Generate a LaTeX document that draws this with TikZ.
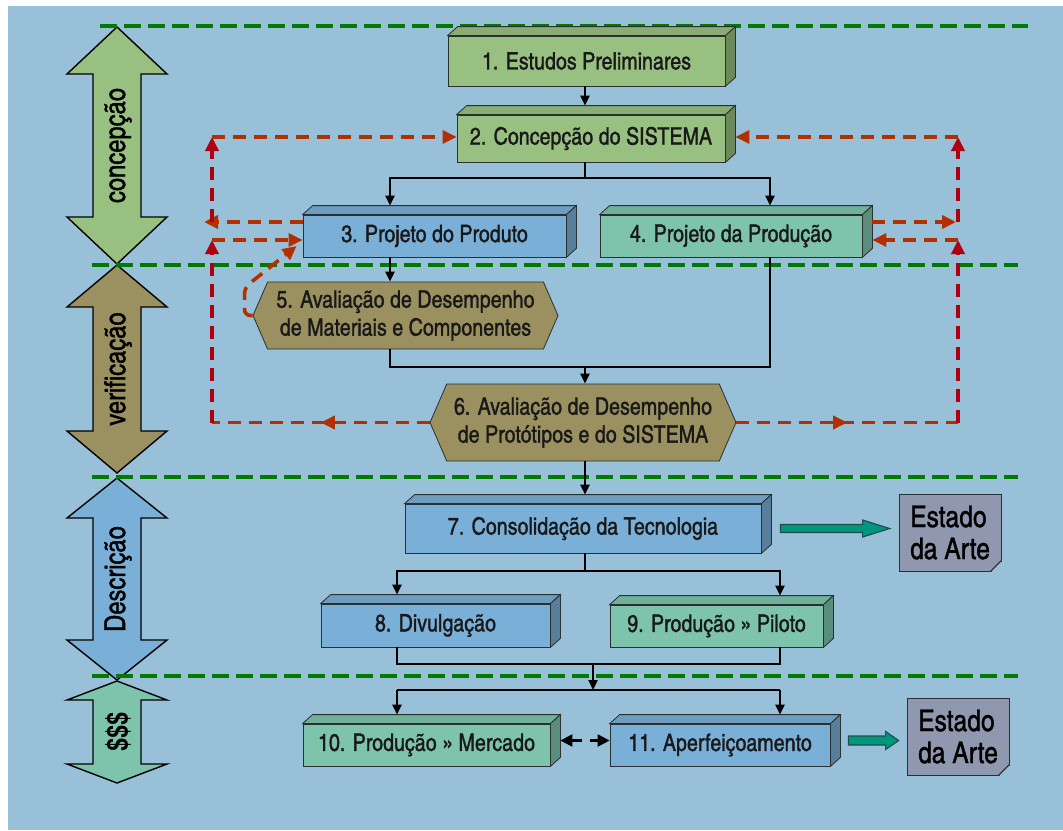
\documentclass[tikz,border=0pt]{standalone}
\usepackage{fontspec}
\setmainfont{texgyreheroscn}[Extension=.otf, UprightFont=*-regular, BoldFont=*-bold, ItalicFont=*-italic, BoldItalicFont=*-bolditalic, UprightFeatures={FakeBold=1.2}]
\usetikzlibrary{arrows.meta, shapes.symbols, calc, decorations.markings}

\definecolor{bgblue}{RGB}{153,192,217}
\definecolor{cgreen}{RGB}{152,192,128}
\definecolor{cteal}{RGB}{126,196,172}
\definecolor{cblue}{RGB}{122,175,215}
\definecolor{colive}{RGB}{154,144,96}
\definecolor{cnote}{RGB}{144,152,176}
\definecolor{boxline}{RGB}{40,48,48}
\definecolor{dgreen}{RGB}{0,122,0}
\definecolor{redh}{RGB}{178,48,0}
\definecolor{redv}{RGB}{176,0,16}
\definecolor{tealfill}{RGB}{0,150,128}
\definecolor{tealline}{RGB}{30,80,70}

\newcommand{\boxfont}{\fontsize{12}{14}\selectfont}

\tikzset{
  slab/.style={draw=boxline, fill=#1, inner sep=2pt, text=black!90, font=\boxfont},
  hexa/.style={signal, signal to=west and east, signal pointer angle=133, draw=boxline, fill=colive,
    align=center, inner sep=1pt, text=black!90, font=\fontsize{12}{14}\selectfont},
  note/.style={draw=boxline, fill=cnote, align=left, inner sep=2pt,
    minimum width=51pt, minimum height=38.5pt, font=\fontsize{15}{16}\selectfont},
  phase/.style={draw=black, line width=0.7pt, fill=#1},
  divider/.style={draw=dgreen, line width=2.2pt, dash pattern=on 8.5pt off 3.5pt},
  link/.style={line width=1.1pt, draw=black},
  flow/.style={link, -{Triangle[length=5pt,width=4.5pt]}},
  fb/.style={draw=redh, color=redh, line width=1.8pt, dash pattern=on 6.5pt off 4pt, -{Triangle[length=7pt,width=6.5pt]}},
  fbv/.style={fb, draw=redv, color=redv},
  fbmid/.style={draw=redh, color=redh, line width=1.8pt, dash pattern=on 6.5pt off 4pt,
    postaction={decorate}, decoration={markings, mark=at position 0.5 with {\arrow{Triangle[length=7pt,width=6.5pt]}}}},
  bigarrow/.style={draw=tealline, fill=tealfill, line width=0.6pt}
}

\begin{document}
\begin{tikzpicture}[x=0.5pt, y=-0.5pt]

\useasboundingbox (0,0) rectangle (1063,830);
\fill[bgblue] (8,6) rectangle (1063,830);

\foreach \ya/\yb/\hd/\col/\lab [count=\i] in {27/264/47/cgreen/concepção, 265/473/42/colive/verificação, 478/680/40/cblue/Descrição, 681/783/19/cteal/\textbf{\$\$\$}}
{
  \filldraw[phase=\col] (117,\ya) -- (167,\ya+\hd) -- (141,\ya+\hd) -- (141,\yb-\hd) -- (167,\yb-\hd) -- (117,\yb)
    -- (67,\yb-\hd) -- (93,\yb-\hd) -- (93,\ya+\hd) -- (67,\ya+\hd) -- cycle;
  \node[rotate=90, font=\fontsize{14.5}{15}\selectfont] (ph\i) at (118,{(\ya+\yb)/2}) {\lab};
}

\draw[divider] (100,26) -- (1028,26);
\draw[divider] (92,265) -- (1018,265);
\draw[divider] (92,477) -- (1018,477);
\draw[divider] (92,676) -- (1018,676);

\node[slab=cgreen, minimum width=138.5pt, minimum height=25pt] (b1) at (586.5,61) {1. Estudos Preliminares};
\node[slab=cgreen, minimum width=134pt, minimum height=23.5pt] (b2) at (591,138.5) {2. Concepção do SISTEMA};
\node[slab=cblue, minimum width=131.5pt, minimum height=21pt] (b3) at (434.5,236) {3. Projeto do Produto};
\node[slab=cteal, minimum width=131pt, minimum height=21pt] (b4) at (731,236) {4. Projeto da Produção};
\node[hexa, minimum width=152.5pt, minimum height=33.5pt] (b5) at (405.5,315.5) {5. Avaliação de Desempenho\\de Materiais e Componentes};
\node[hexa, minimum width=153pt, minimum height=38.5pt] (b6) at (583,422.5) {6. Avaliação de Desempenho\\de Protótipos e do SISTEMA};
\node[slab=cblue, minimum width=178pt, minimum height=24.5pt] (b7) at (583,528.5) {7. Consolidação da Tecnologia};
\node[slab=cblue, minimum width=114.5pt, minimum height=21.5pt] (b8) at (435.5,625.5) {8. Divulgação};
\node[slab=cteal, minimum width=106.5pt, minimum height=21pt] (b9) at (716.5,626) {9. Produção » Piloto};
\node[slab=cteal, minimum width=123.5pt, minimum height=21pt] (b10) at (426.5,745) {10. Produção » Mercado};
\node[slab=cblue, minimum width=110pt, minimum height=21pt] (b11) at (720,745) {11. Aperfeiçoamento};

\foreach \n/\col in {b1/cgreen, b2/cgreen, b3/cblue, b4/cteal, b7/cblue, b8/cblue, b9/cteal, b10/cteal, b11/cblue}
{
  \filldraw[draw=boxline, fill=\col!90!black] (\n.north west) -- ++(5pt,4.5pt) -- ([shift={(5pt,4.5pt)}]\n.north east) -- (\n.north east) -- cycle;
  \filldraw[draw=boxline, fill=\col!72!black] (\n.north east) -- ++(5pt,4.5pt) -- ([shift={(5pt,4.5pt)}]\n.south east) -- (\n.south east) -- cycle;
  \coordinate (\n-top) at ([yshift=4.5pt]\n.north);
  \coordinate (\n-side) at ([shift={(5pt,2.25pt)}]\n.east);
}

\node[note] (n1) at (950,532.5) {Estado\\da Arte};
\node[note] (n2) at (958,736.5) {Estado\\da Arte};
\foreach \n in {n1, n2}
{
  \fill[bgblue] ($(\n.south east)+(-11,1.5)$) -- ($(\n.south east)+(1.5,1.5)$) -- ($(\n.south east)+(1.5,-11)$) -- cycle;
  \filldraw[draw=boxline, fill=cnote!55!white, line width=0.5pt] ($(\n.south east)+(-11,0)$) -- ($(\n.south east)+(0,-11)$) -- ($(\n.south east)+(-8,-3)$) -- cycle;
}

\coordinate (s1) at (585,178);
\coordinate (s1l) at (390,178);
\coordinate (s1r) at (770,178);
\coordinate (m1) at (585,367);
\coordinate (m1l) at (390,367);
\coordinate (m1r) at (770,367);
\coordinate (s2) at (585,571);
\coordinate (s2l) at (397,571);
\coordinate (s2r) at (780,571);
\coordinate (m2) at (593,664);
\coordinate (m2l) at (397,664);
\coordinate (m2r) at (780,664);
\coordinate (s3) at (593,690);
\coordinate (s3l) at (397,690);
\coordinate (s3r) at (780,690);

\draw[flow] (s1 |- b1.south) -- (s1 |- b2-top);
\draw[link] (s1 |- b2.south) -- (s1);
\draw[flow] (s1) -- (s1l) -- (s1l |- b3-top);
\draw[flow] (s1) -- (s1r) -- (s1r |- b4-top);
\draw[flow] (s1l |- b3.south) -- (s1l |- b5.north);
\draw[link] (m1l |- b5.south) -- (m1l) -- (m1r) -- (m1r |- b4.south);
\draw[flow] (m1) -- (m1 |- b6.north);
\draw[flow] (m1 |- b6.south) -- (m1 |- b7-top);
\draw[link] (s2 |- b7.south) -- (s2);
\draw[flow] (s2) -- (s2l) -- (s2l |- b8-top);
\draw[flow] (s2) -- (s2r) -- (s2r |- b9-top);
\draw[link] (m2l |- b8.south) -- (m2l) -- (m2r) -- (m2r |- b9.south);
\draw[flow] (m2) -- (s3);
\draw[link] (s3l) -- (s3r);
\draw[flow] (s3l) -- (s3l |- b10-top);
\draw[flow] (s3r) -- (s3r |- b11-top);
\draw[link, dash pattern=on 5pt off 4pt, {Triangle[length=6pt,width=6pt]}-{Triangle[length=6pt,width=6pt]}] (b10-side) -- (b11.west |- b10-side);

\coordinate (la) at (204,222);
\coordinate (lv1) at (212,222);
\coordinate (lt) at (212,137);
\coordinate (lv2) at (212,240);
\coordinate (lb) at (212,423);
\coordinate (ra) at (956,222);
\coordinate (rv1) at (958,222);
\coordinate (rt) at (958,137);
\coordinate (rv2) at (958,240);
\coordinate (rb) at (958,423);

\draw[fb] ([yshift=7pt]b3.west) -- (la);
\draw[fbv] (lv1) -- (lt);
\draw[fb] (lt) -- (b2.west |- lt);
\draw[fbmid] (b6.west) -- (b6.west -| lb);
\draw[fbv] (lb |- b6.west) -- (lv2);
\draw[fb] (lv2) -- (lv2 -| b3.west);
\draw[fb, rounded corners=3pt] (b5.west) -- ++(-4pt,0) -- ++(0,14pt) -- ([shift={(-3pt,-5pt)}]b3.west);

\draw[fb] ([shift={(5pt,7pt)}]b4.east) -- (ra);
\draw[fbv] (rv1) -- (rt);
\draw[fb] (rt) -- (rt -| b2-side);
\draw[fbmid] (b6.east) -- (b6.east -| rb);
\draw[fbv] (rb |- b6.east) -- (rv2);
\draw[fb] (rv2) -- (rv2 -| b4-side);

\coordinate (t1a) at ($(b7.east)+(19,0)$);
\coordinate (t1b) at ($(n1.west |- t1a)+(-9,0)$);
\filldraw[bigarrow] ($(t1a)+(0,4)$) -- ($(t1b)+(-27,4)$) -- ($(t1b)+(-27,8.5)$) -- (t1b) -- ($(t1b)+(-27,-8.5)$) -- ($(t1b)+(-27,-4)$) -- ($(t1a)+(0,-4)$) -- cycle;
\coordinate (t2a) at ($(b11-side)+(8,0)$);
\coordinate (t2b) at ($(n2.west |- t2a)+(-8,0)$);
\filldraw[bigarrow] ($(t2a)+(0,4.5)$) -- ($(t2b)+(-13,4.5)$) -- ($(t2b)+(-13,9)$) -- (t2b) -- ($(t2b)+(-13,-9)$) -- ($(t2b)+(-13,-4.5)$) -- ($(t2a)+(0,-4.5)$) -- cycle;

\end{tikzpicture}
\end{document}
